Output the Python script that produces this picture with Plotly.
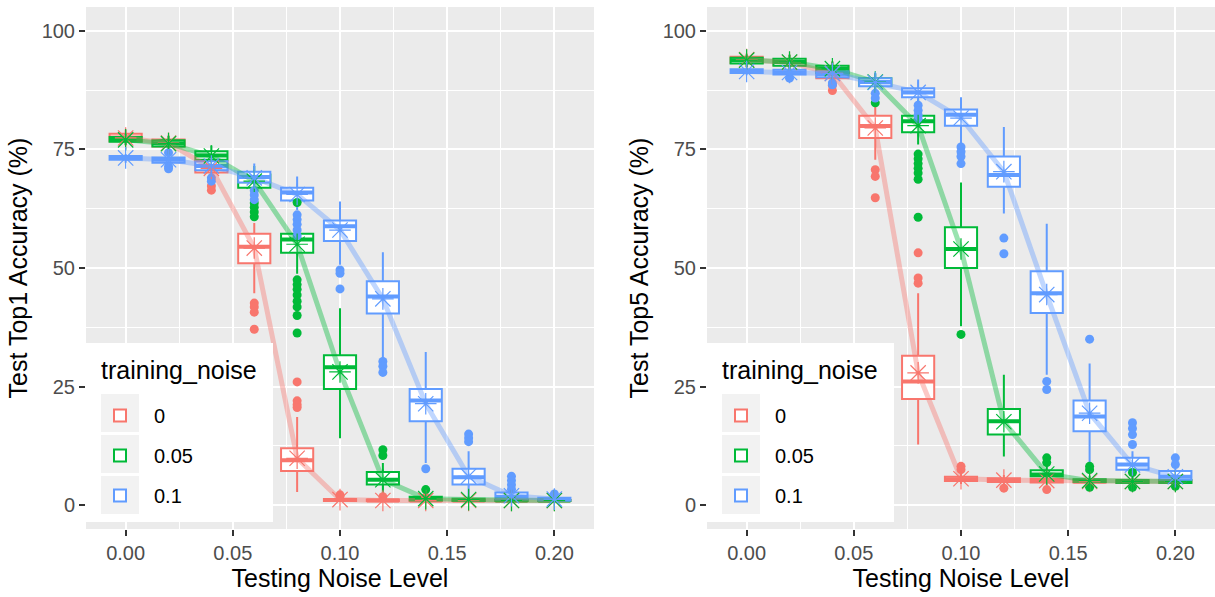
import plotly.graph_objects as go

# ---------------- data ----------------
TESTING = [0.00, 0.02, 0.04, 0.06, 0.08, 0.10, 0.12, 0.14, 0.16, 0.18, 0.20]
TRAINING_LABELS = ["0", "0.05", "0.1"]
COLORS = ["#F8766D", "#00BA38", "#619CFF"]

# Top1 accuracy, training noise 0
T1_MEAN_0 = [77.4, 76.3, 71.0, 54.2, 9.9, 1.2, 1.0, 1.0, 1.0, 1.0, 1.0]
T1_Q1_0 = [76.7, 75.6, 70.1, 51.0, 7.2, 0.9, 0.9, 0.9, 0.9, 0.9, 0.9]
T1_MED_0 = [77.5, 76.4, 71.3, 54.5, 9.5, 1.1, 1.0, 1.0, 1.0, 1.0, 1.0]
T1_Q3_0 = [78.3, 77.1, 72.5, 57.2, 12.0, 1.3, 1.2, 1.1, 1.1, 1.1, 1.1]
T1_LO_0 = [75.8, 74.6, 68.2, 44.7, 2.8, 0.7, 0.7, 0.7, 0.7, 0.7, 0.7]
T1_HI_0 = [79.2, 78.0, 73.8, 59.5, 18.6, 1.7, 1.6, 1.5, 1.4, 1.4, 1.4]
T1_OUT_X_0 = [0.04, 0.04, 0.06, 0.06, 0.06, 0.06, 0.08, 0.08, 0.08, 0.08, 0.10, 0.10, 0.12, 0.14]
T1_OUT_Y_0 = [67.3, 66.4, 42.6, 41.8, 40.7, 37.1, 26.0, 22.0, 21.2, 20.6, 2.2, 1.9, 1.8, 1.7]

# Top1 accuracy, training noise 0.05
T1_MEAN_1 = [77.0, 76.2, 73.6, 68.3, 55.0, 28.1, 5.4, 1.4, 1.2, 1.0, 1.0]
T1_Q1_1 = [76.6, 75.6, 72.8, 66.9, 53.2, 24.5, 4.4, 1.0, 0.9, 0.9, 0.9]
T1_MED_1 = [77.1, 76.3, 73.7, 68.3, 56.0, 29.1, 5.4, 1.3, 1.1, 1.0, 1.0]
T1_Q3_1 = [77.6, 76.9, 74.6, 69.7, 57.2, 31.6, 7.0, 1.8, 1.4, 1.1, 1.1]
T1_LO_1 = [75.9, 74.9, 71.3, 65.0, 48.8, 14.1, 1.5, 0.6, 0.6, 0.7, 0.7]
T1_HI_1 = [78.3, 77.8, 75.8, 71.5, 61.0, 41.5, 8.9, 2.5, 2.0, 1.5, 1.4]
T1_OUT_X_1 = [0.06, 0.06, 0.06, 0.06, 0.08, 0.08, 0.08, 0.08, 0.08, 0.08, 0.08, 0.08, 0.08,
              0.12, 0.12, 0.14]
T1_OUT_Y_1 = [63.7, 62.8, 61.8, 60.8, 63.8, 47.5, 46.5, 45.5, 44.3, 43.0, 41.8, 40.0, 36.3,
              11.7, 10.5, 3.3]

# Top1 accuracy, training noise 0.1
T1_MEAN_2 = [73.2, 72.8, 71.5, 69.0, 65.5, 58.0, 43.5, 21.4, 6.1, 2.0, 1.3]
T1_Q1_2 = [72.8, 72.2, 70.6, 68.0, 64.2, 55.7, 40.4, 17.7, 4.4, 1.2, 1.0]
T1_MED_2 = [73.2, 72.8, 71.5, 69.2, 65.9, 58.8, 44.0, 22.1, 5.9, 1.8, 1.2]
T1_Q3_2 = [73.6, 73.3, 72.5, 70.3, 66.9, 60.0, 47.2, 24.5, 7.7, 2.7, 1.6]
T1_LO_2 = [72.2, 71.8, 69.6, 66.9, 62.2, 50.7, 31.0, 8.9, 1.8, 0.8, 0.7]
T1_HI_2 = [74.0, 73.9, 73.8, 72.0, 69.3, 64.0, 53.3, 32.3, 11.4, 3.9, 2.0]
T1_OUT_X_2 = [0.02, 0.02, 0.02, 0.04, 0.04, 0.06, 0.06, 0.06, 0.08, 0.08, 0.08, 0.08, 0.08,
              0.10, 0.10, 0.10, 0.12, 0.12, 0.12, 0.14, 0.16, 0.16, 0.16,
              0.18, 0.18, 0.18, 0.18, 0.20]
T1_OUT_Y_2 = [74.3, 71.4, 70.9, 69.0, 68.3, 66.3, 65.4, 64.4, 61.2, 60.2, 59.2, 58.0, 56.8,
              49.6, 48.9, 45.6, 30.3, 29.3, 28.0, 7.7, 15.0, 14.2, 13.4,
              6.1, 5.2, 4.3, 3.4, 2.4]

# Top5 accuracy, training noise 0
T5_MEAN_0 = [93.9, 93.3, 91.0, 79.5, 27.9, 5.6, 5.3, 5.2, 5.0, 5.0, 5.0]
T5_Q1_0 = [93.2, 92.7, 90.0, 77.4, 22.4, 5.1, 4.9, 4.8, 4.8, 4.8, 4.8]
T5_MED_0 = [93.9, 93.4, 91.2, 79.9, 26.1, 5.5, 5.3, 5.2, 5.0, 5.0, 5.0]
T5_Q3_0 = [94.5, 94.0, 92.5, 82.1, 31.5, 6.0, 5.7, 5.6, 5.3, 5.2, 5.2]
T5_LO_0 = [92.3, 91.8, 88.9, 72.8, 12.8, 4.5, 4.3, 4.2, 4.3, 4.3, 4.4]
T5_HI_0 = [95.2, 94.9, 93.5, 84.0, 44.7, 7.0, 6.4, 6.5, 5.8, 5.8, 5.8]
T5_OUT_X_0 = [0.04, 0.04, 0.06, 0.06, 0.06, 0.08, 0.08, 0.08, 0.10, 0.10, 0.12, 0.14]
T5_OUT_Y_0 = [88.5, 87.4, 70.7, 69.3, 64.8, 53.2, 47.9, 46.8, 8.2, 7.5, 3.6, 3.3]

# Top5 accuracy, training noise 0.05
T5_MEAN_1 = [93.8, 93.4, 92.0, 89.2, 80.0, 54.0, 17.6, 6.6, 5.2, 5.0, 5.0]
T5_Q1_1 = [93.1, 92.6, 91.1, 88.4, 78.6, 50.0, 14.9, 6.1, 4.9, 4.7, 4.7]
T5_MED_1 = [93.8, 93.4, 92.0, 89.2, 80.9, 54.0, 17.7, 6.5, 5.1, 5.0, 5.0]
T5_Q3_1 = [94.3, 94.1, 92.6, 90.0, 82.1, 58.6, 20.3, 7.4, 5.5, 5.3, 5.3]
T5_LO_1 = [92.3, 91.6, 90.0, 87.0, 76.0, 37.7, 10.3, 5.2, 4.4, 4.3, 4.3]
T5_HI_1 = [95.0, 95.0, 93.5, 91.0, 85.5, 68.0, 27.5, 8.5, 6.2, 6.0, 5.9]
T5_OUT_X_1 = [0.06, 0.08, 0.08, 0.08, 0.08, 0.08, 0.08, 0.08, 0.10, 0.14, 0.14,
              0.16, 0.16, 0.16, 0.18, 0.18, 0.20]
T5_OUT_Y_1 = [84.8, 74.0, 73.0, 72.0, 71.0, 70.0, 68.7, 60.7, 36.0, 10.0, 9.0,
              8.2, 7.5, 3.8, 6.9, 3.8, 4.0]

# Top5 accuracy, training noise 0.1
T5_MEAN_2 = [91.4, 91.2, 91.0, 89.1, 87.0, 81.6, 70.3, 44.4, 19.4, 8.5, 6.0]
T5_Q1_2 = [91.1, 90.8, 90.2, 88.3, 86.0, 80.0, 67.1, 40.5, 15.6, 7.5, 5.4]
T5_MED_2 = [91.4, 91.2, 90.9, 89.2, 87.0, 82.3, 69.6, 44.7, 18.7, 8.6, 6.0]
T5_Q3_2 = [91.9, 91.8, 91.4, 90.0, 87.9, 83.4, 73.5, 49.3, 22.1, 10.0, 7.2]
T5_LO_2 = [90.6, 90.5, 89.6, 87.8, 85.2, 76.3, 61.5, 27.5, 8.9, 5.8, 4.8]
T5_HI_2 = [92.2, 92.2, 92.0, 91.1, 89.7, 86.0, 79.7, 59.3, 29.9, 11.4, 7.8]
T5_OUT_X_2 = [0.02, 0.04, 0.04, 0.06, 0.06, 0.08, 0.08, 0.08, 0.08,
              0.10, 0.10, 0.10, 0.10, 0.12, 0.12, 0.14, 0.14, 0.16,
              0.18, 0.18, 0.18, 0.18, 0.20, 0.20]
T5_OUT_Y_2 = [90.0, 89.0, 88.6, 86.8, 85.8, 84.3, 83.2, 82.2, 81.4,
              75.5, 74.5, 73.5, 72.0, 56.3, 53.0, 26.1, 24.4, 35.0,
              17.4, 16.2, 14.9, 12.8, 10.0, 8.6]

X_TICKS = [0.00, 0.05, 0.10, 0.15, 0.20]
Y_TICKS = [0, 25, 50, 75, 100]
LEGEND_TITLE = "training_noise"

# ---------------- assemble ----------------
PANELS = [
    dict(xa="x", ya="y", legend="legend", title="Test Top1 Accuracy (%)",
         groups=[
             (T1_MEAN_0, T1_Q1_0, T1_MED_0, T1_Q3_0, T1_LO_0, T1_HI_0, T1_OUT_X_0, T1_OUT_Y_0),
             (T1_MEAN_1, T1_Q1_1, T1_MED_1, T1_Q3_1, T1_LO_1, T1_HI_1, T1_OUT_X_1, T1_OUT_Y_1),
             (T1_MEAN_2, T1_Q1_2, T1_MED_2, T1_Q3_2, T1_LO_2, T1_HI_2, T1_OUT_X_2, T1_OUT_Y_2),
         ]),
    dict(xa="x2", ya="y2", legend="legend2", title="Test Top5 Accuracy (%)",
         groups=[
             (T5_MEAN_0, T5_Q1_0, T5_MED_0, T5_Q3_0, T5_LO_0, T5_HI_0, T5_OUT_X_0, T5_OUT_Y_0),
             (T5_MEAN_1, T5_Q1_1, T5_MED_1, T5_Q3_1, T5_LO_1, T5_HI_1, T5_OUT_X_1, T5_OUT_Y_1),
             (T5_MEAN_2, T5_Q1_2, T5_MED_2, T5_Q3_2, T5_LO_2, T5_HI_2, T5_OUT_X_2, T5_OUT_Y_2),
         ]),
]

BOX_W = 0.015


def rgba(hex_color, a):
    h = hex_color.lstrip("#")
    r, g, b = int(h[0:2], 16), int(h[2:4], 16), int(h[4:6], 16)
    return f"rgba({r},{g},{b},{a})"


fig = go.Figure()

for p in PANELS:
    # boxes (+ thick median as degenerate box), drawn group by group
    for gi, g in enumerate(p["groups"]):
        mean, q1, med, q3, lo, hi, ox, oy = g
        fig.add_trace(go.Box(
            x=TESTING, q1=q1, median=med, q3=q3, lowerfence=lo, upperfence=hi,
            width=BOX_W, whiskerwidth=0, boxpoints=False,
            fillcolor="white", line=dict(color=COLORS[gi], width=2),
            name=TRAINING_LABELS[gi], legendgroup=TRAINING_LABELS[gi],
            legend=p["legend"], showlegend=True,
            xaxis=p["xa"], yaxis=p["ya"], hoverinfo="skip"))
        fig.add_trace(go.Box(
            x=TESTING, q1=med, median=med, q3=med, lowerfence=med, upperfence=med,
            width=BOX_W, whiskerwidth=0, boxpoints=False,
            fillcolor=COLORS[gi], line=dict(color=COLORS[gi], width=4),
            name=TRAINING_LABELS[gi], legendgroup=TRAINING_LABELS[gi],
            legend=p["legend"], showlegend=False,
            xaxis=p["xa"], yaxis=p["ya"], hoverinfo="skip"))
    # outliers
    for gi, g in enumerate(p["groups"]):
        mean, q1, med, q3, lo, hi, ox, oy = g
        fig.add_trace(go.Scatter(
            x=ox, y=oy, mode="markers",
            marker=dict(color=COLORS[gi], size=9, line=dict(width=0)),
            legendgroup=TRAINING_LABELS[gi], legend=p["legend"], showlegend=False,
            xaxis=p["xa"], yaxis=p["ya"], hoverinfo="skip"))
    # mean lines
    for gi, g in enumerate(p["groups"]):
        mean = g[0]
        fig.add_trace(go.Scatter(
            x=TESTING, y=mean, mode="lines",
            line=dict(color=rgba(COLORS[gi], 0.4), width=5),
            legendgroup=TRAINING_LABELS[gi], legend=p["legend"], showlegend=False,
            xaxis=p["xa"], yaxis=p["ya"], hoverinfo="skip"))
    # mean asterisks
    for gi, g in enumerate(p["groups"]):
        mean = g[0]
        fig.add_trace(go.Scatter(
            x=TESTING, y=mean, mode="markers",
            marker=dict(symbol="asterisk-open", size=18, color=COLORS[gi],
                        line=dict(color=COLORS[gi], width=1.2)),
            legendgroup=TRAINING_LABELS[gi], legend=p["legend"], showlegend=False,
            xaxis=p["xa"], yaxis=p["ya"], hoverinfo="skip"))

W, H = 1215, 597
FONT = "Liberation Sans, Arial, Helvetica, sans-serif"

axis_common = dict(
    showgrid=True, gridcolor="white", gridwidth=2, zeroline=False, showline=False,
    ticks="outside", ticklen=6, tickwidth=2, tickcolor="#333333",
    tickfont=dict(family=FONT, size=20, color="#4D4D4D"),
    title_font=dict(family=FONT, size=25, color="black"),
)

xr = [-0.0185, 0.2185]
yr = [-5, 105]
ydom = [68 / H, 590 / H]

fig.update_layout(
    width=W, height=H, margin=dict(l=0, r=0, t=0, b=0),
    paper_bgcolor="white", plot_bgcolor="#EBEBEB",
    font=dict(family=FONT, color="black"),
    boxmode="overlay",
    xaxis=dict(domain=[86 / W, 594 / W], range=xr, tickmode="array", tickvals=X_TICKS,
               tickformat=".2f", title=dict(text="Testing Noise Level", standoff=6),
               minor=dict(tickmode="linear", tick0=0, dtick=0.025, showgrid=True,
                          gridcolor="white", gridwidth=1, ticks=""),
               anchor="y", **axis_common),
    yaxis=dict(domain=ydom, range=yr, tickmode="array", tickvals=Y_TICKS,
               title=dict(text=PANELS[0]["title"], standoff=6),
               minor=dict(tickmode="linear", tick0=0, dtick=12.5, showgrid=True,
                          gridcolor="white", gridwidth=1, ticks=""),
               anchor="x", **axis_common),
    xaxis2=dict(domain=[707 / W, 1.0], range=xr, tickmode="array", tickvals=X_TICKS,
                tickformat=".2f", title=dict(text="Testing Noise Level", standoff=6),
                minor=dict(tickmode="linear", tick0=0, dtick=0.025, showgrid=True,
                           gridcolor="white", gridwidth=1, ticks=""),
                anchor="y2", **axis_common),
    yaxis2=dict(domain=ydom, range=yr, tickmode="array", tickvals=Y_TICKS,
                title=dict(text=PANELS[1]["title"], standoff=6),
                minor=dict(tickmode="linear", tick0=0, dtick=12.5, showgrid=True,
                           gridcolor="white", gridwidth=1, ticks=""),
                anchor="x2", **axis_common),
)

# ---- legend: white panel + title (annotation) + key backgrounds + native items ----
def px_x(v):
    return v / W


def px_y(v):
    return (H - v) / H


shapes = []
annotations = []
legend_cfg = {}
for li, (lname, x0) in enumerate([("legend", 86), ("legend2", 707)]):
    shapes.append(dict(type="rect", xref="paper", yref="paper", layer="above",
                       x0=px_x(x0), x1=px_x(x0 + 187), y0=px_y(522), y1=px_y(343),
                       fillcolor="white", line=dict(width=0)))
    for top in (394, 435, 476):
        shapes.append(dict(type="rect", xref="paper", yref="paper", layer="above",
                           x0=px_x(x0 + 15), x1=px_x(x0 + 53), y0=px_y(top + 38),
                           y1=px_y(top), fillcolor="#F2F2F2", line=dict(width=0)))
    annotations.append(dict(text=LEGEND_TITLE, xref="paper", yref="paper",
                            x=px_x(x0 + 13), y=px_y(370), xanchor="left", yanchor="middle",
                            showarrow=False, font=dict(family=FONT, size=25, color="black")))
    legend_cfg[lname] = dict(
        x=px_x(x0), xanchor="left", y=px_y(396), yanchor="top",
        bgcolor="rgba(0,0,0,0)", borderwidth=0,
        font=dict(family=FONT, size=20, color="black"),
        traceorder="grouped", tracegroupgap=11, itemwidth=58,
    )

fig.update_layout(shapes=shapes, annotations=annotations, **legend_cfg)

fig.write_html("out.html")
